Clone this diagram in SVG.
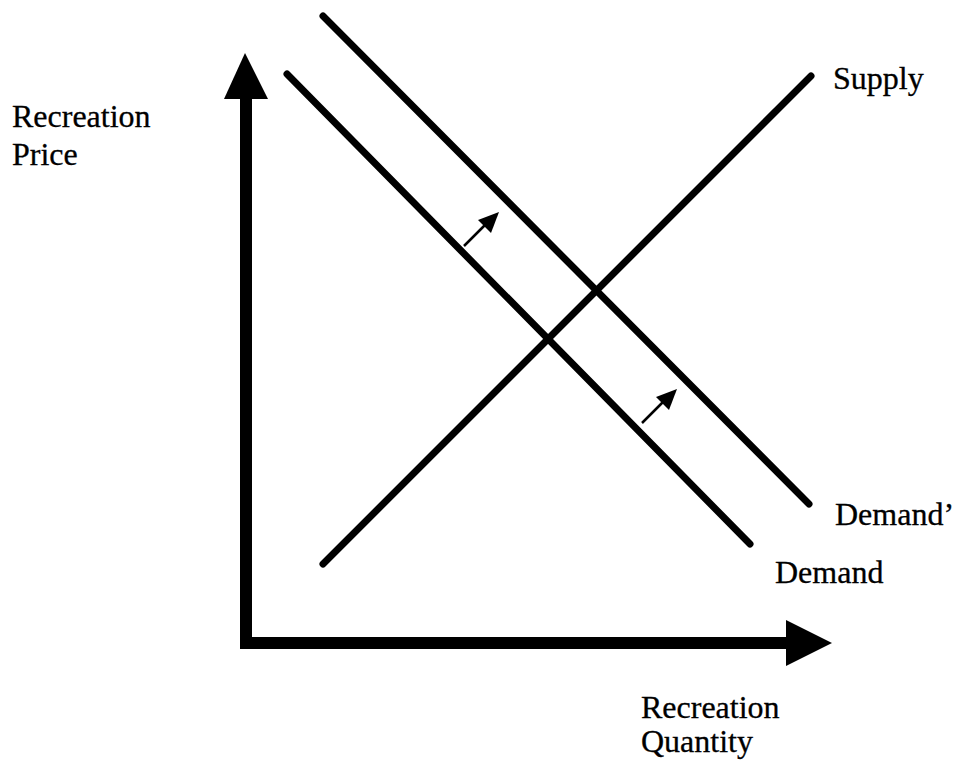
<svg xmlns="http://www.w3.org/2000/svg" width="956" height="775" viewBox="0 0 956 775">
<style>
.t{font-family:"Liberation Serif","Times New Roman",serif;font-size:32px;fill:#000;stroke:#000;stroke-width:0.3}
.curve{stroke:#000;stroke-width:7;stroke-linecap:round;fill:none}
.axis{stroke:#000;stroke-width:12;fill:none}
.shift{stroke:#000;stroke-width:2.5;fill:none}
.head{fill:#000}
</style>
<rect width="956" height="775" fill="#fff"/>
<g id="axes">
<line class="axis" x1="246" y1="649" x2="246" y2="96"/>
<polygon class="head" points="245,53 224,99 268,99"/>
<line class="axis" x1="240" y1="643" x2="790" y2="643"/>
<polygon class="head" points="832,643 786,620 786,666"/>
</g>
<g id="connectors">
<line id="demand" class="curve" x1="287" y1="74" x2="750" y2="544"/>
<line id="demand2" class="curve" x1="323" y1="16" x2="809" y2="504"/>
<line id="supply" class="curve" x1="323" y1="564" x2="811" y2="76"/>
<g id="shift1">
<line class="shift" x1="464" y1="246" x2="486" y2="224"/>
<polygon class="head" points="499,212 478,220 491,233"/>
</g>
<g id="shift2">
<line class="shift" x1="642" y1="423" x2="664" y2="401"/>
<polygon class="head" points="677,389 656,397 669,410"/>
</g>
</g>
<g id="labels">
<text class="t" x="12" y="127">Recreation</text>
<text class="t" x="12" y="165">Price</text>
<text class="t" x="833" y="89">Supply</text>
<text class="t" x="835" y="525">Demand’</text>
<text class="t" x="775" y="583">Demand</text>
<text class="t" x="641" y="718">Recreation</text>
<text class="t" x="641" y="752">Quantity</text>
</g>
</svg>
